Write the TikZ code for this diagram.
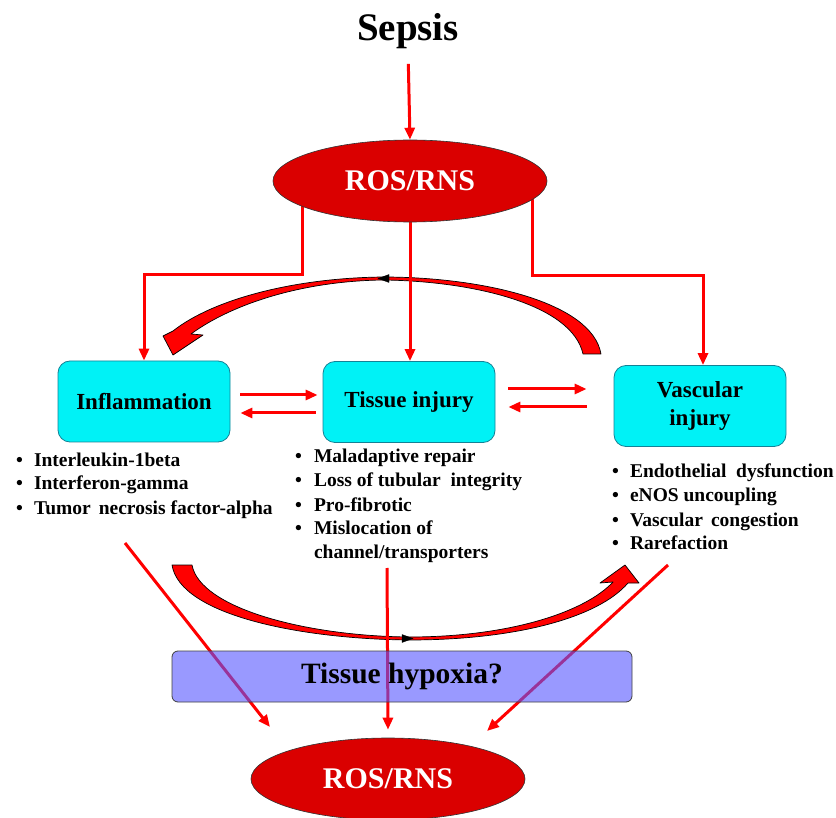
\documentclass[tikz,border=0pt]{standalone}
\usepackage{fontspec}
\setmainfont{Liberation Serif}
\usetikzlibrary{arrows.meta,calc,shapes.geometric}
\pgfdeclarelayer{background}
\pgfsetlayers{background,main}
\definecolor{arrred}{RGB}{255,0,0}
\definecolor{ellred}{RGB}{218,0,0}
\definecolor{boxcyan}{RGB}{0,242,246}
\definecolor{boxedge}{RGB}{20,130,150}
\definecolor{hypo}{RGB}{85,85,255}
\begin{document}
\begin{tikzpicture}[x=1pt,y=-1pt,
 redarrow/.style={draw=arrred,line width=3pt,-{Triangle[length=12pt,width=10pt]}},
 rosnode/.style={ellipse,draw=black!80,line width=0.6pt,fill=ellred,minimum width=274pt,minimum height=82pt,inner sep=0pt,text=white,font=\fontsize{30}{30}\selectfont\bfseries},
 cbox/.style={draw=boxedge,line width=0.8pt,fill=boxcyan,rounded corners=12pt,minimum width=172pt,minimum height=81pt,inner sep=0pt,align=center,font=\fontsize{23}{28}\selectfont\bfseries},
 blist/.style={anchor=base west,inner sep=0pt,font=\fontsize{19.5}{24}\selectfont\bfseries},
 bigarrow/.style={fill=arrred,draw=black,line width=0.7pt,line join=round},
 smallhead/.style={fill=black,draw=black,line width=0.3pt},
]
\useasboundingbox (0,0) rectangle (836,818);

% nodes
\node[inner sep=0pt,font=\fontsize{39}{39}\selectfont\bfseries] (sepsis) at (408,31) {Sepsis};
\node[rosnode] (ros1) at (410,181) {ROS/RNS};
\node[cbox] (infl) at (144,401.5) {Inflammation};
\node[cbox] (tissue) at (409,402) {Tissue injury};
\node[cbox] (vasc) at (700,406) {Vascular\\injury};
\node[draw=black!75,line width=0.8pt,rounded corners=6pt,fill=hypo,fill opacity=0.6,text opacity=1,minimum width=460pt,minimum height=51pt,inner sep=0pt,font=\fontsize{29.5}{29.5}\selectfont\bfseries] (hyp) at (402,676.5) {Tissue hypoxia?};
\node[rosnode] (ros2) at (388,779) {ROS/RNS};

\node[blist] (l1) at (16,466) {\begin{tabular}[t]{@{}l@{\hspace{11pt}}l@{}}
\textbullet & Interleukin-1beta\\
\textbullet & Interferon-gamma\\
\textbullet & Tumor\ \,necrosis factor-alpha
\end{tabular}};
\node[blist] (l2) at (295,463) {\begin{tabular}[t]{@{}l@{\hspace{12pt}}l@{}}
\textbullet & Maladaptive repair\\
\textbullet & Loss of tubular\ \ integrity\\
\textbullet & Pro-fibrotic\\
\textbullet & Mislocation of\\
 & channel/transporters
\end{tabular}};
\node[blist] (l3) at (612,478) {\begin{tabular}[t]{@{}l@{\hspace{11pt}}l@{}}
\textbullet & Endothelial\ \ dysfunction\\
\textbullet & eNOS uncoupling\\
\textbullet & Vascular\ \,congestion\\
\textbullet & Rarefaction
\end{tabular}};

\coordinate (k1) at (144,275);
\coordinate (k2) at (703,276);
\coordinate (s1) at (125,543);
\coordinate (e1) at (270,727);
\coordinate (s2) at (387,568);
\coordinate (s3) at (668,565);
\coordinate (e3) at (487,731);

\begin{pgfonlayer}{background}
% curved arrows
\path[bigarrow] (601,354) .. controls (592,302) and (482,277) .. (383,277)
 .. controls (292,278) and (212,300) .. (173,331)
 -- (163,336) -- (173,355) -- (203,335) -- (191,334)
 .. controls (232,304) and (302,281) .. (383,280)
 .. controls (472,281) and (572,304) .. (583,354) -- cycle;
\path[smallhead] (378,278.5) -- (389,274.5) -- (389,282.5) -- cycle;
\path[bigarrow] (172,565) .. controls (180,615) and (300,639) .. (409,640)
 .. controls (515,640) and (598,618) .. (628,583)
 -- (639,583) -- (625,565) -- (600,583) -- (613,582)
 .. controls (585,612) and (510,637) .. (409,637)
 .. controls (305,636) and (200,608) .. (192,565) -- cycle;
\path[smallhead] (413,638.5) -- (402,634.5) -- (402,642.5) -- cycle;

% connectors
\draw[redarrow,shorten <=15pt] (sepsis.south) -- (ros1.north);
\draw[redarrow] ($(ros1.center)+(-108,0)$) |- (k1) -- (infl.north);
\draw[redarrow] (ros1.south) -- (ros1.south |- tissue.north);
\draw[redarrow] ($(ros1.center)+(122,0)$) |- (k2) -- (k2 |- vasc.north);
\draw[redarrow] ($(infl.east)+(10,-6.5)$) -- ($(tissue.west)+(-5,-7)$);
\draw[redarrow] ($(tissue.west)+(-7,11)$) -- ($(infl.east)+(10,11.5)$);
\draw[redarrow] ($(tissue.east)+(13,-13)$) -- ($(vasc.west)+(-27,-17)$);
\draw[redarrow] ($(vasc.west)+(-27,1)$) -- ($(tissue.east)+(13,5)$);
\draw[redarrow] (s1) -- (e1);
\draw[redarrow] (s2) -- ($(ros2.north)+(0,-8)$);
\draw[redarrow] (s3) -- (e3);
\end{pgfonlayer}
\end{tikzpicture}
\end{document}
